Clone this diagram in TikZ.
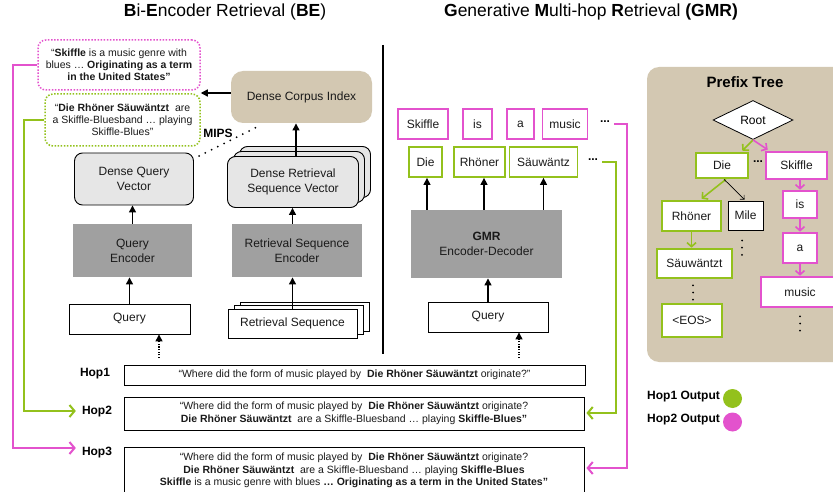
\documentclass[tikz,border=0pt]{standalone}
\usepackage{fontspec}
\setmainfont{Liberation Sans}
\usetikzlibrary{arrows.meta,shapes.geometric,calc}
\definecolor{pk}{HTML}{E352CD}
\definecolor{gn}{HTML}{93C11C}
\definecolor{tanc}{HTML}{D3C8B2}
\definecolor{enc}{HTML}{A0A0A0}
\definecolor{vec}{HTML}{E6E6E6}
\definecolor{txt}{HTML}{1A1A1A}
\begin{document}
\begin{tikzpicture}[x=1pt,y=-1pt,
  fA/.style={font=\fontsize{12}{15}\selectfont},
  fS/.style={font=\fontsize{10.5}{12.5}\selectfont},
  fT/.style={font=\fontsize{17.5}{20}\selectfont},
  box/.style={draw,line width=0.9pt,inner sep=0pt,align=center,fA,text=txt},
  vecbox/.style={box,fill=vec,rounded corners=8pt},
  encbox/.style={box,draw=none,fill=enc},
  dotbox/.style={draw,line width=1.5pt,dash pattern=on 1.5pt off 1.6pt,rounded corners=8pt,inner sep=0pt,align=center,font=\fontsize{10.5}{12}\selectfont,text=txt},
  tok/.style={box,line width=1.8pt,fill=white},
  tree/.style={box,line width=2.6pt,fill=white},
  hopbox/.style={draw,line width=0.9pt,inner sep=0pt,align=center,fS,text=txt},
  hoplbl/.style={font=\fontsize{12}{14}\selectfont\bfseries,inner sep=0pt},
  blk/.style={line width=1.3pt,-{Triangle[length=7pt,width=7pt]}},
  dotarr/.style={line width=1.3pt,dash pattern=on 1.3pt off 1.3pt,-{Triangle[length=7pt,width=7pt]}},
  hopline/.style={line width=2pt,-{Straight Barb[length=5pt,width=12pt]}},
  treearr/.style={line width=1.6pt,-{Straight Barb[length=4pt,width=9pt]}},
  vdot/.style={line width=2pt,line cap=round,dash pattern=on 0pt off 7.2pt},
]
\useasboundingbox (0,0) rectangle (833,492);

% titles
\node[fT] (t1) at (225,12) {\textbf{B}i-\textbf{E}ncoder Retrieval (\textbf{BE})};
\node[fT] (t2) at (591,12) {\textbf{G}enerative \textbf{M}ulti-hop \textbf{R}etrieval \textbf{(GMR)}};

% divider
\coordinate (divT) at (383,45);
\coordinate (divB) at (383,354);
\draw[line width=1.2pt] (divT) -- (divB);

% ---------- BE side ----------
\node[dotbox,draw=pk,minimum width=162,minimum height=50] (pinkdot) at (119,65)
  {“\textbf{Skiffle} is a music genre with\\blues … \textbf{Originating as a term}\\\textbf{in the United States”}};
\node[dotbox,draw=gn,minimum width=155,minimum height=52] (greendot) at (122.5,120)
  {“\textbf{Die Rhöner Säuwäntzt}~ are\\a Skiffle-Bluesband … playing\\Skiffle-Blues”};

\node[box,draw=none,fill=tanc,rounded corners=12pt,minimum width=141,minimum height=52] (dci) at (301.5,97) {Dense Corpus Index};

\node[vecbox,minimum width=119,minimum height=52] (dqv) at (134,179) {Dense Query\\Vector};
\node[vecbox,minimum width=131,minimum height=51] (drsvB) at (305,172) {};
\node[vecbox,minimum width=131,minimum height=51] (drsvA) at (299,177) {};
\node[vecbox,minimum width=131,minimum height=51] (drsv) at (293,182) {Dense Retrieval\\Sequence Vector};

\node[encbox,minimum width=119,minimum height=53] (qenc) at (132.5,250.5) {Query\\Encoder};
\node[encbox,minimum width=130,minimum height=53] (rsenc) at (297,250.5) {Retrieval Sequence\\Encoder};

\node[box,fill=white,minimum width=121,minimum height=30] (ql) at (129.5,319) {Query};
\node[box,fill=white,minimum width=129,minimum height=29] (rsB) at (304.5,316.5) {};
\node[box,fill=white,minimum width=129,minimum height=29] (rsA) at (298.5,320) {};
\node[box,fill=white,minimum width=129,minimum height=29] (rs) at (292.5,323.5) {Retrieval Sequence};

\draw[blk] (ql.north) -- (ql.north |- qenc.south);
\draw[blk] (qenc.north) -- (qenc.north |- dqv.south);
\draw[blk] (rs.north) -- (rs.north |- rsenc.south);
\draw[blk] (rs.north |- rsenc.north) -- (rs.north |- drsv.south);
\draw[blk] (drsv.north) ++(3,0) coordinate (drsvtop) -- (drsvtop |- dci.south);
\draw[blk] ([yshift=4pt]dci.west) -- ([yshift=4pt]dci.west -| greendot.east);

\coordinate (mipsA) at (199,156);
\coordinate (mipsB) at (259,126);
\draw[line width=2pt,line cap=round,dash pattern=on 0pt off 7pt] (mipsA) -- (mipsB);
\node[hoplbl] (mips) at (218,133) {MIPS};

% ---------- GMR side ----------
\node[tok,draw=pk,minimum width=50,minimum height=30] (tSk) at (423,124) {Skiffle};
\node[tok,draw=pk,minimum width=29,minimum height=30] (tIs) at (477.5,124) {is};
\node[tok,draw=pk,minimum width=27,minimum height=30] (tA) at (520.5,124) {a};
\node[tok,draw=pk,minimum width=45,minimum height=30] (tMu) at (565,124) {music};
\node[fA,inner sep=0pt] (pdots) at (605,122) {\textbf{...}};

\node[tok,draw=gn,minimum width=33,minimum height=30] (tDie) at (425.5,162) {Die};
\node[tok,draw=gn,minimum width=51,minimum height=30] (tRh) at (479.5,162) {Rhöner};
\node[tok,draw=gn,minimum width=68,minimum height=30] (tSa) at (543.5,162) {Säuwäntz};
\node[fA,inner sep=0pt] (gdots) at (593,160) {\textbf{...}};

\node[encbox,minimum width=151,minimum height=68] (gmr) at (486.5,244) {\textbf{GMR}\\Encoder-Decoder};
\node[box,fill=white,minimum width=120,minimum height=30] (qr) at (488,317) {Query};

\draw[blk] ([xshift=1.5pt]tDie.south |- gmr.north) -- ([xshift=1.5pt]tDie.south);
\draw[blk] ([xshift=4.5pt]tRh.south |- gmr.north) -- ([xshift=4.5pt]tRh.south);
\draw[blk] (tSa.south |- gmr.north) -- (tSa.south);
\draw[blk] (qr.north) -- (qr.north |- gmr.south);

% ---------- Hop boxes ----------
\node[hopbox,minimum width=461,minimum height=20] (hop1) at (354.5,375)
  {“Where did the form of music played by~ \textbf{Die Rhöner Säuwäntzt} originate?”};
\node[hopbox,minimum width=460,minimum height=33] (hop2) at (354,413.5)
  {“Where did the form of music played by~ \textbf{Die Rhöner Säuwäntzt} originate?\\
   \textbf{Die Rhöner Säuwäntzt}~ are a Skiffle-Bluesband … playing \textbf{Skiffle-Blues”}};
\node[hopbox,minimum width=460,minimum height=47] (hop3) at (354,470.5)
  {“Where did the form of music played by~ \textbf{Die Rhöner Säuwäntzt} originate?\\
   \textbf{Die Rhöner Säuwäntzt}~ are a Skiffle-Bluesband … playing \textbf{Skiffle-Blues}\\
   \textbf{Skiffle} is a music genre with blues \textbf{… Originating as a term in the United States”}};

\node[hoplbl] (h1l) at (95,374) {Hop1};
\node[hoplbl] (h2l) at (97,412) {Hop2};
\node[hoplbl] (h3l) at (97,453) {Hop3};

\coordinate (dl) at (159,358);
\coordinate (dr) at (519,358);
\draw[dotarr] (dl) -- (dl |- ql.south);
\draw[dotarr] (dr) -- (dr |- qr.south);

% hop connectors
\draw[hopline,draw=pk] (pinkdot.west) -- ++(-24,0) |- ([xshift=-6pt,yshift=5pt]h3l.west);
\draw[hopline,draw=gn] (greendot.west) -- ++(-20,0) |- ([xshift=-6pt,yshift=1pt]h2l.west);
\draw[hopline,draw=pk] ([xshift=4pt,yshift=-2pt]pdots.east) -- ++(13,0) |- ([xshift=2pt,yshift=2.5pt]hop3.east);
\draw[hopline,draw=gn] ([xshift=4pt,yshift=-2pt]gdots.east) -- ++(14,0) |- ([xshift=2pt,yshift=0.5pt]hop2.east);

% ---------- Prefix tree ----------
\node[fill=tanc,rounded corners=12pt,minimum width=220,minimum height=295,inner sep=0pt] (panel) at (757,214.5) {};
\node[font=\fontsize{15}{17}\selectfont\bfseries,inner sep=0pt] (ptitle) at (745,82) {Prefix Tree};
\node[diamond,draw,fill=white,line width=0.8pt,aspect=2,minimum width=80,minimum height=39,inner sep=0pt,fA] (root) at (753,120) {Root};

\node[tree,draw=gn,minimum width=52,minimum height=25] (pDie) at (722,165.5) {Die};
\node[tree,draw=pk,minimum width=61,minimum height=27] (pSk) at (796.5,165.5) {Skiffle};
\node[fA,inner sep=0pt] (pmid) at (758,162) {\textbf{...}};
\node[tree,draw=gn,minimum width=59,minimum height=30] (pRh) at (691.5,216) {Rhöner};
\node[box,fill=white,line width=1pt,minimum width=35,minimum height=29] (pMile) at (745.5,215.5) {Mile};
\node[tree,draw=gn,minimum width=75,minimum height=29] (pSa) at (694.5,263.5) {Säuwäntzt};
\node[tree,draw=gn,minimum width=60,minimum height=33] (pEos) at (692,320.5) {<EOS>};
\node[tree,draw=pk,minimum width=34,minimum height=27] (pIs) at (800,204.5) {is};
\node[tree,draw=pk,minimum width=34,minimum height=30] (pA) at (800,248) {a};
\node[tree,draw=pk,minimum width=78,minimum height=30] (pMu) at (800,292) {music};

% vertical dots
\draw[vdot] ([xshift=-3.5pt,yshift=-10pt]pMile.south) -- ++(0,15);
\draw[vdot] ([xshift=-1.5pt,yshift=-6pt]pSa.south) -- ++(0,16);
\draw[vdot] ([yshift=-8pt]pMu.south) -- ++(0,15);

\draw[treearr,draw=gn] (root.south) -- ([xshift=-7pt,yshift=1pt]pDie.north east);
\draw[treearr,draw=pk] (root.south) -- ([xshift=3pt,yshift=1pt]pSk.north west);
\draw[treearr,draw=gn] ([xshift=4pt]pDie.south) -- ([xshift=10pt,yshift=1pt]pRh.north);
\draw[line width=0.7pt,-{Straight Barb[length=3pt,width=6pt]}] ([xshift=2pt]pDie.south) -- ([xshift=-1pt,yshift=1pt]pMile.north);
\draw[treearr,draw=gn] (pRh.south) -- (pRh.south |- pSa.north);
\draw[treearr,draw=pk] (pIs.north |- pSk.south) -- (pIs.north);
\draw[treearr,draw=pk] (pIs.south) -- (pA.north);
\draw[treearr,draw=pk] (pA.south) -- (pMu.north);

% legend
\node[hoplbl,anchor=west] (lg1) at (647,397) {Hop1 Output};
\node[hoplbl,anchor=west] (lg2) at (647,420) {Hop2 Output};
\node[circle,fill=gn,minimum size=19,inner sep=0pt] (c1) at (732.5,398.5) {};
\node[circle,fill=pk,minimum size=19,inner sep=0pt] (c2) at (732.5,422) {};
\end{tikzpicture}
\end{document}
